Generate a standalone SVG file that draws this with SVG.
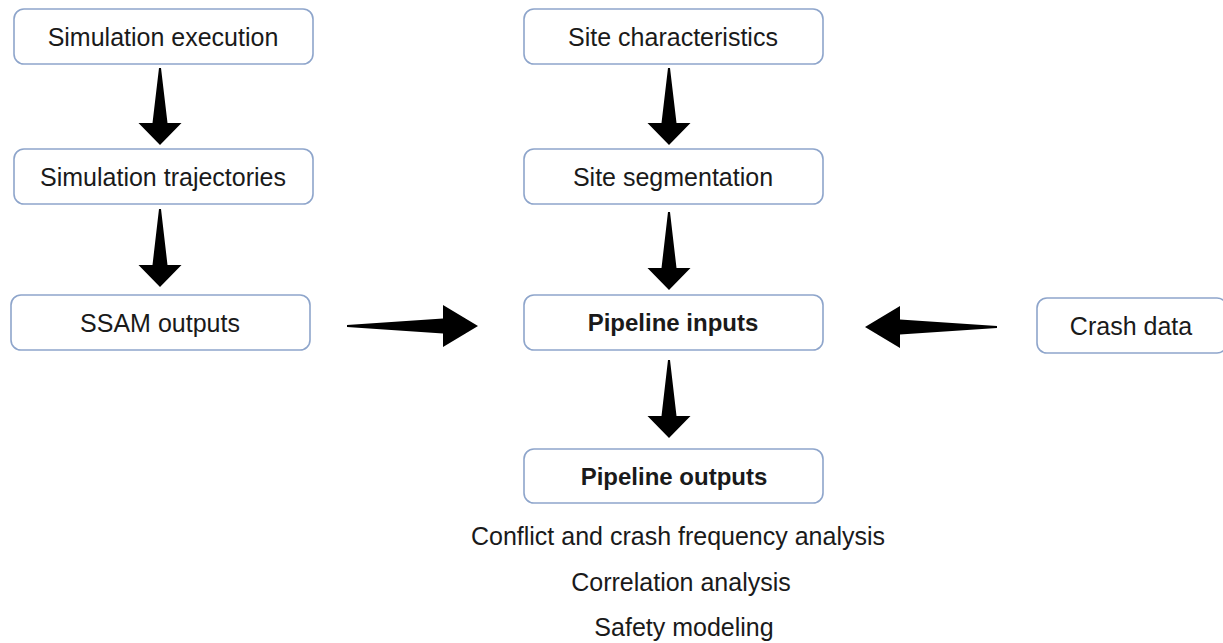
<svg xmlns="http://www.w3.org/2000/svg" width="1223" height="643" viewBox="0 0 1223 643">
<style>
.box{fill:#fff;stroke:#8EA5CB;stroke-width:1.6}
.t{font-family:"Liberation Sans",Arial,sans-serif;font-size:25px;fill:#1a1a1a;text-anchor:middle}
.b{font-weight:bold;font-size:24px}
.arr{fill:#000}
</style>
<rect width="1223" height="643" fill="#fff"/>
<g id="n-sim-exec"><rect class="box" x="14" y="9" width="299" height="55" rx="10"/><text class="t" x="163" y="46">Simulation execution</text></g>
<g id="n-sim-traj"><rect class="box" x="14" y="149" width="299" height="55" rx="10"/><text class="t" x="163" y="186">Simulation trajectories</text></g>
<g id="n-ssam"><rect class="box" x="11" y="295" width="299" height="55" rx="10"/><text class="t" x="160" y="332">SSAM outputs</text></g>
<g id="n-site-char"><rect class="box" x="524" y="9" width="299" height="55" rx="10"/><text class="t" x="673" y="46">Site characteristics</text></g>
<g id="n-site-seg"><rect class="box" x="524" y="149" width="299" height="55" rx="10"/><text class="t" x="673" y="186">Site segmentation</text></g>
<g id="n-pipe-in"><rect class="box" x="524" y="295" width="299" height="55" rx="10"/><text class="t b" x="673" y="331">Pipeline inputs</text></g>
<g id="n-crash"><rect class="box" x="1037" y="298" width="190" height="55" rx="10"/><text class="t" x="1131" y="335">Crash data</text></g>
<g id="n-pipe-out"><rect class="box" x="524" y="449" width="299" height="54" rx="10"/><text class="t b" x="674" y="485">Pipeline outputs</text></g>
<g id="n-analyses">
<text class="t" x="678" y="545">Conflict and crash frequency analysis</text>
<text class="t" x="681" y="591">Correlation analysis</text>
<text class="t" x="684" y="636">Safety modeling</text>
</g>
<g id="connectors">
<polygon class="arr" points="159,68 161,68 167.5,123 181.5,123 160,145 138.5,123 152.5,123"/>
<polygon class="arr" points="159,209 161,209 167.5,265 181.5,265 160,287 138.5,265 152.5,265"/>
<polygon class="arr" points="668,68 670,68 676.5,123 690.5,123 669,145 647.5,123 661.5,123"/>
<polygon class="arr" points="668,212 670,212 676.5,268 690.5,268 669,290 647.5,268 661.5,268"/>
<polygon class="arr" points="668,360 670,360 676.5,416 690.5,416 669,438 647.5,416 661.5,416"/>
<polygon class="arr" points="347,325 347,327 443,333.5 443,347 478,326 443,305 443,318.5"/>
<polygon class="arr" points="997,326 997,328 900,334.5 900,348 865,327 900,306 900,319.5"/>
</g>
</svg>
